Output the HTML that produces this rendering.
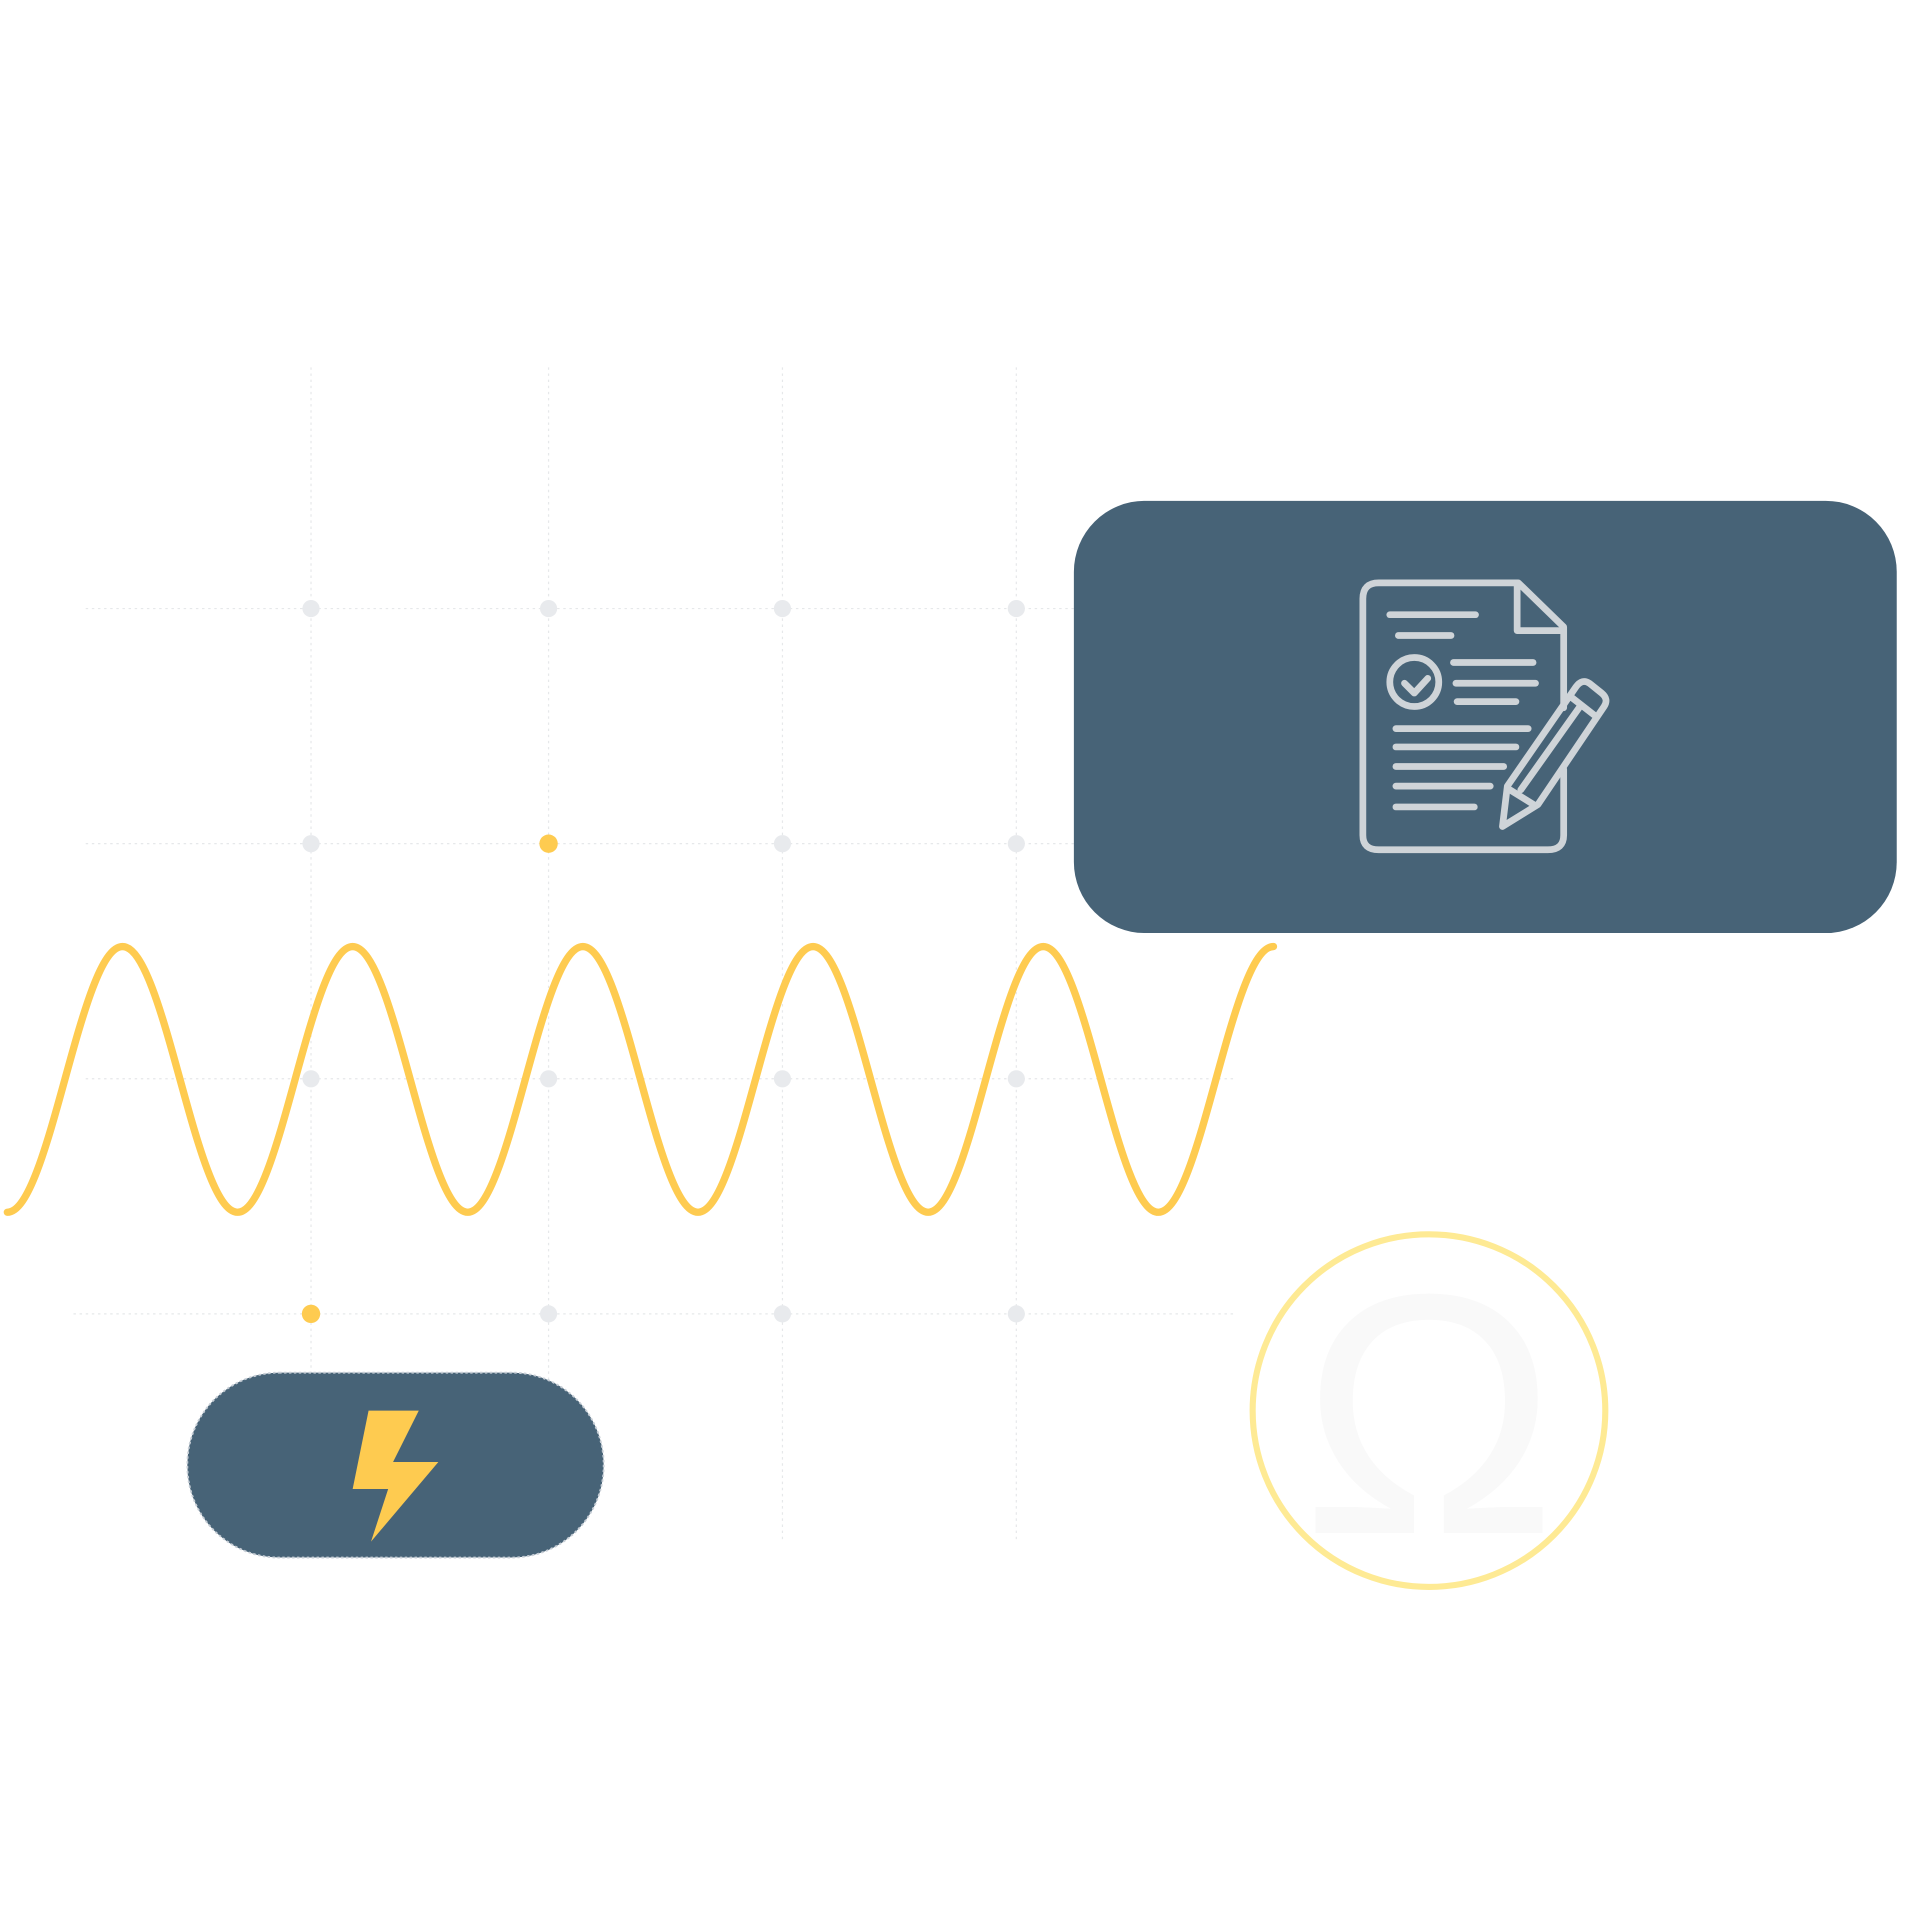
<!DOCTYPE html>
<html><head><meta charset="utf-8"><style>html,body{margin:0;padding:0;background:#fff;}svg{display:block}</style></head>
<body>
<svg width="1920" height="1920" viewBox="0 0 1568 1568" xmlns="http://www.w3.org/2000/svg">
<g stroke="#e6e8ea" stroke-width="1" stroke-dasharray="2 3" fill="none">
<line x1="254" y1="300" x2="254" y2="1260"/>
<line x1="448" y1="300" x2="448" y2="1260"/>
<line x1="639" y1="300" x2="639" y2="1260"/>
<line x1="830" y1="300" x2="830" y2="1260"/>
<line x1="70" y1="497" x2="1010" y2="497"/>
<line x1="70" y1="689" x2="1010" y2="689"/>
<line x1="70" y1="881" x2="1010" y2="881"/>
<line x1="60" y1="1073" x2="1010" y2="1073"/>
</g>
<g fill="#e8eaed">
<circle cx="254" cy="497" r="7"/><circle cx="448" cy="497" r="7"/><circle cx="639" cy="497" r="7"/><circle cx="830" cy="497" r="7"/>
<circle cx="254" cy="689" r="7"/><circle cx="639" cy="689" r="7"/><circle cx="830" cy="689" r="7"/>
<circle cx="254" cy="881" r="7"/><circle cx="448" cy="881" r="7"/><circle cx="639" cy="881" r="7"/><circle cx="830" cy="881" r="7"/>
<circle cx="448" cy="1073" r="7"/><circle cx="639" cy="1073" r="7"/><circle cx="830" cy="1073" r="7"/>
</g>
<circle cx="448" cy="689" r="7.5" fill="#fecb50"/>
<circle cx="254" cy="1073" r="7.5" fill="#fecb50"/>

<rect x="877" y="409" width="672" height="353" rx="58" ry="58" fill="#476377"/>
<g fill="none" stroke="#cfd4d8" stroke-width="5.5" stroke-linecap="round" stroke-linejoin="round">
<path d="M1277,578 L1277,512 L1240,476 L1126,476 Q1113,476 1113,489 L1113,682 Q1113,694 1126,694 L1264,694 Q1277,694 1277,682 L1277,628"/>
<path d="M1239,478 L1239,515 L1275,515"/>
<line x1="1135" y1="502" x2="1205" y2="502"/>
<line x1="1142" y1="519" x2="1185" y2="519"/>
<circle cx="1155" cy="557" r="20"/>
<path d="M1147,558 L1155,566 L1166,554"/>
<line x1="1187" y1="541" x2="1252" y2="541"/>
<line x1="1189" y1="558" x2="1254" y2="558"/>
<line x1="1190" y1="573" x2="1238" y2="573"/>
<line x1="1140" y1="595" x2="1248" y2="595"/>
<line x1="1140" y1="610" x2="1238" y2="610"/>
<line x1="1140" y1="626" x2="1228" y2="626"/>
<line x1="1140" y1="642" x2="1217" y2="642"/>
<line x1="1140" y1="659" x2="1204" y2="659"/>
<path d="M1231,642 L1287,561 Q1292,554 1298,558 L1308,566 Q1314,571 1310,577 L1256,657 L1227,675 Z"/>
<line x1="1284" y1="570" x2="1302" y2="584"/>
<line x1="1242" y1="645" x2="1291" y2="576"/>
<line x1="1233" y1="645" x2="1254" y2="658"/>
</g>

<path d="M6,990 C40.2,990 65.8,773 100,773 S159.8,990 194,990 S253.8,773 288,773 S347.8,990 382,990 S441.8,773 476,773 S535.8,990 570,990 S629.8,773 664,773 S723.8,990 758,990 S817.8,773 852,773 S911.8,990 946,990 S1005.8,773 1040,773" fill="none" stroke="#fecb50" stroke-width="6" stroke-linecap="round"/>

<rect x="153" y="1121" width="340" height="151" rx="75" ry="75" fill="#476377" stroke="#c7ced6" stroke-width="1.5" stroke-dasharray="2 2"/>
<polygon points="301,1152 342,1152 321,1194 358,1194 303,1259 317,1216 288,1216" fill="#fecb50"/>

<circle cx="1167" cy="1152" r="144" fill="none" stroke="#feea94" stroke-width="5"/>
<text x="0" y="0" transform="translate(1167,1252) scale(1.12,1.12)" text-anchor="middle" font-family="Liberation Sans, sans-serif" font-size="250" fill="#f9f9f9">Ω</text>
</svg>
</body></html>
